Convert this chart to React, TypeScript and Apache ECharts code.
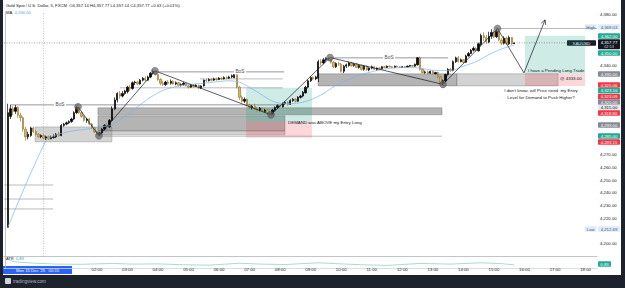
import React, { useEffect, useRef } from 'react';
import * as echarts from 'echarts';

// ---------- axis categories (5-minute slots from Sun 23:00) ----------
const SLOT_COUNT = 233;
const timeCategories: string[] = [];
for (let k = 0; k < SLOT_COUNT; k++) {
  const m = (23 * 60 + k * 5) % 1440;
  timeCategories.push(String(Math.floor(m / 60)).padStart(2, '0') + ':' + String(m % 60).padStart(2, '0'));
}
const timeTickLabels = ['02:00', '03:00', '04:00', '05:00', '06:00', '07:00', '08:00', '09:00', '10:00', '11:00', '12:00', '13:00', '14:00', '15:00', '16:00', '17:00', '18:00'];
const priceTickLabels = [4200, 4220, 4230, 4240, 4250, 4260, 4270, 4340, 4380];

// ---------- candles [open, high, low, close], first = 23:05 ----------
const candles: number[][] = [
  [4213, 4310, 4212.69, 4303], [4300, 4309, 4298, 4306], [4306, 4308, 4301, 4304], [4304, 4309, 4302, 4307],
  [4307, 4308, 4299, 4301], [4301, 4303, 4296, 4299], [4299, 4300, 4288, 4290], [4290, 4292, 4281, 4284],
  [4284, 4288, 4282, 4286], [4285, 4292, 4284, 4291], [4291, 4292, 4287, 4288], [4288, 4289.5, 4285, 4286],
  [4286, 4287, 4283, 4284], [4284, 4286, 4283, 4285], [4285, 4286, 4282, 4283], [4283, 4285, 4281.5, 4284],
  [4284, 4285, 4281.6, 4282.5], [4282.5, 4285, 4282, 4283.5], [4283.5, 4286, 4282.5, 4284], [4284, 4287, 4283, 4286],
  [4286, 4288, 4284, 4285], [4285, 4294, 4284.5, 4293], [4293, 4295, 4292, 4294], [4294, 4296, 4293, 4295],
  [4295, 4297, 4294, 4296], [4296, 4299, 4295, 4298], [4298, 4304, 4297, 4303], [4303, 4308.5, 4302, 4307],
  [4307, 4308, 4302, 4303], [4303, 4304, 4299, 4300], [4300, 4301, 4296, 4297], [4297, 4299, 4295, 4298],
  [4298, 4299, 4293, 4294], [4294, 4295, 4290, 4291], [4291, 4292, 4287, 4288], [4288, 4289, 4285, 4286],
  [4286, 4288, 4284.5, 4287], [4287, 4291, 4286, 4290], [4290, 4294, 4289, 4293], [4293, 4295, 4290, 4292],
  [4292, 4298, 4291, 4297], [4297, 4308, 4296, 4306], [4306, 4315, 4305, 4313], [4313, 4319, 4311, 4318],
  [4318, 4320, 4314, 4316], [4316, 4320, 4315, 4318], [4318, 4321, 4317, 4320], [4319.5, 4324, 4318, 4323],
  [4323, 4325, 4320, 4322], [4322, 4327.5, 4321, 4326.5], [4326.5, 4328, 4324.5, 4327], [4327, 4328, 4324.5, 4325.5],
  [4325.5, 4329.5, 4325, 4328.5], [4328.5, 4331, 4327.5, 4330], [4330, 4331.5, 4327.5, 4328.5], [4328.5, 4332, 4328, 4331],
  [4331, 4335, 4330, 4334], [4334, 4336.5, 4333, 4335.5], [4335.5, 4336, 4332, 4333], [4333, 4334, 4328, 4329],
  [4329, 4330, 4324.5, 4326], [4326, 4328, 4324, 4325], [4325, 4328, 4324, 4327], [4327, 4328.5, 4325, 4326],
  [4326, 4329, 4325, 4327.5], [4327.5, 4328.5, 4325, 4325.5], [4325.5, 4327.5, 4324.5, 4326.5], [4326.5, 4327, 4323.5, 4324.5],
  [4324.5, 4326, 4323.5, 4325], [4325, 4327, 4324, 4326], [4326, 4326.5, 4323.5, 4324], [4324, 4325, 4322, 4323],
  [4323, 4325.5, 4322.5, 4324.5], [4324.5, 4325.5, 4322.5, 4323.5], [4323.5, 4325.5, 4323, 4324.5], [4324.5, 4325, 4321.5, 4322.5],
  [4322.5, 4324.5, 4321.5, 4324], [4324, 4329, 4323.5, 4328.5], [4328.5, 4329.5, 4327, 4328], [4328, 4330, 4327.5, 4329],
  [4329, 4330, 4327.5, 4328.5], [4328.5, 4330.5, 4328, 4329.5], [4329.5, 4330.5, 4328, 4329], [4329, 4331, 4328.5, 4330],
  [4330, 4331, 4328.5, 4329.5], [4329.5, 4331.5, 4329, 4330.5], [4330.5, 4331.5, 4329, 4330], [4330, 4332, 4329.5, 4331],
  [4331, 4333, 4330, 4332], [4330.5, 4334.5, 4330, 4333], [4333, 4333.5, 4322, 4323], [4323, 4324, 4313, 4315],
  [4315, 4316.5, 4311, 4312], [4312, 4315, 4310.5, 4313.5], [4313.5, 4314, 4308, 4309], [4309, 4310, 4306, 4307],
  [4307, 4309, 4305.5, 4308], [4308, 4310, 4305, 4306], [4306, 4307.5, 4304, 4305], [4305, 4307.5, 4304, 4306.5],
  [4306.5, 4307, 4303.5, 4304], [4304, 4306, 4303, 4305], [4305, 4305.5, 4302, 4303], [4303, 4304, 4300.5, 4302],
  [4302, 4306, 4301, 4305], [4305, 4308, 4304, 4307], [4307, 4309.5, 4306, 4308.5], [4308.5, 4309, 4306.5, 4307.5],
  [4307.5, 4311, 4307, 4310], [4310, 4312, 4309, 4311], [4311, 4312, 4308.5, 4309.5], [4309.5, 4313.5, 4309, 4312.5],
  [4312.5, 4314.5, 4311.5, 4313.5], [4313.5, 4314.5, 4311, 4312], [4312, 4316, 4311.5, 4315], [4315, 4317, 4314, 4316],
  [4316, 4320, 4315, 4319], [4318.5, 4324, 4318, 4323], [4323, 4329, 4322, 4328], [4328, 4331.5, 4327, 4330.5],
  [4330.5, 4331.5, 4328.5, 4329.5], [4329.5, 4332, 4328.5, 4331], [4330, 4344.5, 4327, 4343], [4343, 4345, 4340, 4342],
  [4342, 4346, 4341, 4344.5], [4344.5, 4346.5, 4343, 4345.5], [4345.5, 4346.8, 4343.5, 4345], [4345, 4346, 4341.5, 4342.5],
  [4342.5, 4343.5, 4338, 4339], [4339, 4342.5, 4338, 4341.5], [4341.5, 4343, 4339.5, 4341], [4341, 4342, 4334.5, 4335.5],
  [4335.5, 4340.5, 4334, 4339.5], [4339.5, 4341.5, 4338, 4340.5], [4340, 4343, 4339, 4342], [4342, 4343, 4339, 4340],
  [4340, 4342, 4339, 4341], [4341, 4342, 4338, 4338.5], [4338.5, 4341, 4337.5, 4340], [4340, 4340.5, 4336, 4337],
  [4337, 4340, 4336, 4339.5], [4339.5, 4340, 4336, 4336.5], [4336.5, 4338.5, 4335.5, 4338], [4338, 4340, 4337, 4339],
  [4339, 4339.5, 4336.5, 4337], [4337, 4338.5, 4336, 4338], [4338, 4338.5, 4336.5, 4337.5], [4337.5, 4339.5, 4337, 4339],
  [4339, 4339.5, 4338, 4338.5], [4338.5, 4340, 4338, 4339.5], [4339.5, 4340, 4338.5, 4339], [4339, 4339.5, 4338, 4338.5],
  [4338.5, 4340, 4338, 4339.5], [4339.5, 4340, 4338.5, 4339], [4339, 4339.5, 4338, 4338.5], [4338.5, 4339.5, 4338, 4339],
  [4339, 4339.5, 4338, 4338.7], [4338.7, 4340, 4338.5, 4339.5], [4339.5, 4340.5, 4339, 4340], [4340, 4340.5, 4339, 4339.5],
  [4339.5, 4341.5, 4339, 4341], [4340.5, 4346.7, 4340, 4346], [4346, 4347, 4336, 4337], [4337, 4338, 4334, 4334.5],
  [4334.5, 4336, 4333.5, 4335], [4335, 4336, 4333, 4334], [4334, 4336, 4333.5, 4335.5], [4335.5, 4336, 4333, 4333.5],
  [4333.5, 4335, 4333, 4334.5], [4334.5, 4335, 4330, 4331], [4331, 4332, 4325.5, 4326.5], [4326.5, 4329, 4324.8, 4328],
  [4328, 4333.5, 4327, 4333], [4333, 4338, 4332, 4337], [4337, 4338, 4335, 4336], [4336, 4344, 4335.5, 4343],
  [4343, 4347, 4342, 4346], [4346, 4347.5, 4342.5, 4343], [4343, 4345.5, 4342.5, 4344.5], [4344.5, 4345, 4341.5, 4342.5],
  [4342.5, 4348.5, 4342, 4347.5], [4347.5, 4350.5, 4347, 4349.5], [4349.5, 4353, 4349, 4352], [4352, 4355, 4351, 4353.5],
  [4353.5, 4354.5, 4351, 4351.5], [4351.5, 4358, 4351, 4357], [4356.5, 4365, 4355, 4363.5], [4363.5, 4366, 4359, 4362],
  [4362, 4364, 4357, 4358.5], [4358.5, 4366.5, 4357.5, 4363], [4363, 4368.5, 4361, 4366], [4366, 4368, 4361.5, 4362.5],
  [4362.5, 4369.03, 4361.5, 4367], [4367, 4368.5, 4359, 4360], [4360, 4361.5, 4356, 4357.5], [4357.5, 4363, 4356.5, 4361.5],
  [4361.5, 4362.5, 4356.5, 4357], [4357, 4363.5, 4356, 4362], [4362, 4362.5, 4356.2, 4357.14], [4357.14, 4357.77, 4357.14, 4357.77],
];

// ---------- moving average, read at sparse slots [slot, value] ----------
const maPoints: number[][] = [
  [1, 4213], [16, 4281], [20, 4285.5], [26, 4288.5], [32, 4290], [37, 4291.5], [42, 4293.5], [47, 4300],
  [52, 4307.5], [57, 4315], [62, 4320.5], [67, 4323.5], [72, 4325], [80, 4326.5], [88, 4328], [92, 4327],
  [95, 4324], [100, 4318], [105, 4312], [110, 4310], [115, 4310.5], [120, 4313], [125, 4318], [130, 4324.5],
  [135, 4329], [140, 4333], [150, 4337.5], [160, 4338.5], [170, 4336], [175, 4336], [180, 4339.5], [185, 4343],
  [190, 4348.5], [195, 4353], [200, 4356],
];

// ---------- ATR pane, sparse [slot, value] ----------
const atrPoints: number[][] = [
  [1, 2.4], [2, 1.9], [3, 1.6], [5, 1.45], [8, 1.35], [12, 1.2], [20, 1.0], [30, 0.95], [42, 1.15], [50, 1.0],
  [60, 1.05], [70, 0.85], [80, 0.75], [92, 1.2], [100, 1.0], [110, 0.9], [123, 1.3], [130, 1.1], [140, 0.85],
  [150, 0.7], [163, 1.15], [175, 1.0], [187, 1.3], [195, 1.1], [200, 0.83],
];

// ---------- zones [fromSlot, toSlot, lowPrice, highPrice, kind] ----------
const zones: number[][] = [
  [11.7, 41.9, 4280.1, 4291.8, 0],
  [36.4, 171.6, 4301.3, 4306.8, 1],
  [36.4, 109.9, 4288.7, 4300.5, 1],
  [36.4, 109.9, 4285.6, 4288.7, 0],
  [122.9, 177.4, 4324.0, 4333.5, 1],
  [177.4, 217.2, 4324.0, 4333.5, 0],
  [94.6, 120.5, 4295.8, 4322.5, 2],
  [94.6, 120.5, 4283.2, 4295.8, 3],
  [204.2, 227.8, 4333.5, 4363.3, 2],
  [204.2, 227.8, 4324.0, 4333.5, 3],
];

// ---------- line segments [x1, p1, x2, p2, kind] ----------
const segments: number[][] = [
  [1.9, 4309.1, 109, 4309.1, 0],
  [60, 4335.0, 109.6, 4335.0, 0],
  [128.4, 4346.0, 174, 4346.0, 0],
  [45, 4322.5, 109, 4322.5, 1],
  [76.5, 4329.5, 109, 4329.5, 1],
  [36.4, 4284.5, 171.6, 4284.5, 1],
  [-0.4, 4246.2, 18.8, 4246.2, 1],
  [-0.4, 4235.2, 18.8, 4235.2, 1],
  [-0.4, 4227.4, 18.8, 4227.4, 1],
  [193.4, 4369.03, 232.5, 4369.03, 1],
  [-0.5, 4357.77, 232.5, 4357.77, 2],
  [15, 4190, 15, 4382, 3],
  [203.8, 4334.2, 212.1, 4375.8, 4],
];

// ---------- swing structure ----------
const swingPoints: number[][] = [
  [28.6, 4307.6], [36.8, 4284.8], [58.8, 4335.8], [104.4, 4301.3], [127.6, 4346.2], [172, 4325.2], [193.4, 4369.03], [203.8, 4334.2],
];
const pivotCount = 7;

// ---------- notes ----------
const noteTexts = ['BoS', 'BoS', 'BoS', 'DEMAND was ABOVE my Entry Long', 'I have a Pending Long Trade',
  "I don't know, will Price need  my Entry", 'Level for Demand to Push Higher?', '@ 4333.00'];
const notePos: number[][] = [
  [21.5, 4309.1, 0], [92.2, 4335.0, 0], [150.8, 4346.0, 0], [111.1, 4295.0, 1], [205.4, 4335.8, 1],
  [210.5, 4320.0, 2], [210.5, 4314.5, 2], [218.0, 4329.5, 1],
];

// ---------- right-scale badges ----------
const badgeLabels = ['4,369.03', '4,362.00', '4,357.77', '4,350.00', '4,335.00', '4,325.06', '4,323.16', '4,323.09',
  '4,320.00', '4,315.00', '4,318.80', '4,293.00', '4,285.00', '4,283.15', '4,212.69'];
const headerName = 'Gold Spot / U.S. Dollar, 5, FXCM';
const headerOHLC = ['4,357.14', '4,357.77', '4,357.14', '4,357.77'];
const headerChange = '+0.63 (+0.01%)';
const maValueText = '4,356.00';
const atrValueText = '0.83';
const crosshairText = "Mon 15 Dec '25   00:15";

const FONT = 'Liberation Sans, Arial, sans-serif';
const C_GREEN = '#22ab94';
const C_RED = '#f23645';
const C_GREY = '#868993';
const C_PALE = '#dfe9fb';

function fmtPrice(v: number) {
  return v.toLocaleString('en-US', { minimumFractionDigits: 2, maximumFractionDigits: 2 });
}

function textEl(x: number, y: number, text: string, fill: string, size: number, align = 'left', extra: any = {}) {
  return {
    type: 'text', x, y, silent: true,
    style: { text, fill, fontSize: size, fontFamily: FONT, align, textAlign: align, verticalAlign: 'middle', textVerticalAlign: 'middle', ...extra },
  };
}
function badgeEl(label: string, yc: number, bg: string, fg: string, x = 598, w = 22, h = 5.6) {
  return {
    type: 'group', silent: true,
    children: [
      { type: 'rect', shape: { x, y: yc - h / 2, width: w, height: h, r: 0.8 }, style: { fill: bg } },
      textEl(x + w / 2, yc + 0.2, label, fg, 4.3, 'center'),
    ],
  };
}

export default function App() {
  const ref = useRef<HTMLDivElement>(null);
  useEffect(() => {
    document.body.style.margin = '0';
    if (!ref.current) return;
    const chart = echarts.init(ref.current, undefined, { renderer: 'svg' });

    const candleData: any[] = [['-', '-', '-', '-']];
    candles.forEach((c) => candleData.push([c[0], c[3], c[2], c[1]]));

    const badgeLayout: [number, string, string][] = [
      [27, C_PALE, '#4a5a7a'], [36, C_GREEN, '#fff'], [43, '#131722', '#fff'], [53, C_GREEN, '#fff'],
      [74, C_GREY, '#fff'], [85, C_RED, '#fff'], [90.5, C_GREEN, '#fff'], [96.5, C_RED, '#fff'],
      [102, C_GREY, '#fff'], [107.5, '#e6e8ee', '#131722'], [113, C_RED, '#fff'], [125, C_GREY, '#fff'],
      [136, C_GREEN, '#fff'], [142, C_RED, '#fff'], [229, C_PALE, '#4a5a7a'],
    ];
    const graphics: any[] = [];
    badgeLabels.forEach((lab, k) => {
      const [y, bg, fg] = badgeLayout[k];
      if (k === 2) {
        graphics.push({
          type: 'group', silent: true, children: [
            { type: 'rect', shape: { x: 598, y: 39.2, width: 22, height: 10, r: 0.8 }, style: { fill: bg } },
            textEl(609, 42, lab, fg, 4.3, 'center'),
            textEl(609, 46.8, '02:53', '#d1d4dc', 3.8, 'center'),
          ],
        });
      } else graphics.push(badgeEl(lab, y, bg, fg));
    });
    // tags left of scale
    graphics.push(badgeEl('High', 27, C_PALE, '#4a5a7a', 585, 11.5));
    graphics.push(badgeEl('XAUUSD', 43, '#131722', '#fff', 567, 29));
    graphics.push(badgeEl('Low', 229, C_PALE, '#4a5a7a', 585, 11.5));
    graphics.push(badgeEl(atrValueText, 264, C_GREEN, '#fff', 598, 13));
    // header
    graphics.push({
      type: 'text', x: 6, y: 5.5, silent: true,
      style: {
        text: `{n|${headerName}}  {l|O}{v|${headerOHLC[0]}} {l|H}{v|${headerOHLC[1]}} {l|L}{v|${headerOHLC[2]}} {l|C}{v|${headerOHLC[3]}} {v|${headerChange}}`,
        fontFamily: FONT, fontSize: 4.2, fill: '#131722', verticalAlign: 'middle', textVerticalAlign: 'middle',
        rich: { n: { fontSize: 4.2, fill: '#131722' }, l: { fontSize: 4.2, fill: '#131722' }, v: { fontSize: 4.2, fill: '#131722' } },
      },
    });
    graphics.push({
      type: 'text', x: 6, y: 12.5, silent: true,
      style: {
        text: `{l|MA}  {v|${maValueText}}`, fontFamily: FONT, fontSize: 4.2, verticalAlign: 'middle', textVerticalAlign: 'middle',
        rich: { l: { fontSize: 4.2, fill: '#131722' }, v: { fontSize: 4.2, fill: '#5b9cf6' } },
      },
    });
    graphics.push({
      type: 'text', x: 6, y: 258.5, silent: true,
      style: {
        text: `{l|ATR}  {v|${atrValueText}}`, fontFamily: FONT, fontSize: 4, verticalAlign: 'middle', textVerticalAlign: 'middle',
        rich: { l: { fontSize: 4, fill: '#131722' }, v: { fontSize: 4, fill: C_GREEN } },
      },
    });
    // crosshair time label
    graphics.push({
      type: 'group', silent: true, children: [
        { type: 'rect', shape: { x: 3, y: 266, width: 69, height: 8 }, style: { fill: '#2962ff' } },
        textEl(37.5, 270, crosshairText, '#fff', 4.2, 'center'),
      ],
    });
    // frame and footer
    graphics.push({ type: 'rect', silent: true, shape: { x: 0, y: 0, width: 3, height: 288 }, style: { fill: '#1e222d' } });
    graphics.push({ type: 'rect', silent: true, shape: { x: 621, y: 0, width: 4, height: 288 }, style: { fill: '#1e222d' } });
    graphics.push({ type: 'rect', silent: true, shape: { x: 0, y: 275, width: 625, height: 13 }, style: { fill: '#1e222d' } });
    graphics.push({ type: 'rect', silent: true, shape: { x: 5, y: 278, width: 6, height: 6, r: 1 }, style: { fill: '#d1d4dc' } });
    graphics.push(textEl(13, 281.3, 'tradingview.com', '#b2b5be', 4.6, 'left'));

    const zoneFill = ['rgba(150,150,150,0.42)', 'rgba(105,105,105,0.5)', 'rgba(8,153,129,0.2)', 'rgba(242,54,69,0.2)'];
    const zoneStroke = ['rgba(90,90,90,0.6)', 'rgba(70,70,70,0.6)', 'rgba(0,0,0,0)', 'rgba(0,0,0,0)'];

    const option: any = {
      animation: false,
      backgroundColor: '#ffffff',
      textStyle: { fontFamily: FONT },
      grid: [
        { left: 4, right: 28, top: 12, height: 244.6 },
        { left: 4, right: 28, top: 257.5, height: 11 },
      ],
      xAxis: [
        {
          type: 'category', gridIndex: 0, data: timeCategories, boundaryGap: true,
          axisLine: { show: true, lineStyle: { color: '#b2b5be', width: 0.8 } },
          axisTick: { show: false },
          splitLine: { show: false },
          axisLabel: {
            interval: (_i: number, v: string) => timeTickLabels.includes(v),
            fontSize: 4.3, color: '#131722', margin: 11, fontFamily: FONT,
          },
        },
        { type: 'value', gridIndex: 0, min: -0.5, max: 232.5, show: false },
        {
          type: 'value', gridIndex: 1, min: -0.5, max: 232.5, show: true,
          axisLine: { show: true, onZero: false, lineStyle: { color: '#d1d4dc', width: 0.8 } },
          axisTick: { show: false }, axisLabel: { show: false }, splitLine: { show: false },
        },
      ],
      yAxis: [
        {
          type: 'value', gridIndex: 0, position: 'right', min: 4190, max: 4382, interval: 10, scale: true,
          axisLine: { show: true, lineStyle: { color: '#b2b5be', width: 0.8 } },
          axisTick: { show: false }, splitLine: { show: false },
          axisLabel: {
            fontSize: 4.3, color: '#131722', margin: 3, fontFamily: FONT,
            formatter: (v: number) => (priceTickLabels.includes(v) ? fmtPrice(v) : ''),
          },
        },
        {
          type: 'value', gridIndex: 1, position: 'right', min: 0, max: 2.5,
          axisLine: { show: true, lineStyle: { color: '#b2b5be', width: 0.8 } },
          axisTick: { show: false }, axisLabel: { show: false }, splitLine: { show: false },
        },
      ],
      graphic: graphics,
      series: [
        {
          type: 'custom', name: 'zones', xAxisIndex: 1, yAxisIndex: 0, z: 1, silent: true,
          data: zones, encode: { x: [0, 1], y: [2, 3] },
          renderItem: (_p: any, api: any) => {
            const a = api.coord([api.value(0), api.value(3)]);
            const b = api.coord([api.value(1), api.value(2)]);
            const k = api.value(4);
            return {
              type: 'rect', shape: { x: a[0], y: a[1], width: b[0] - a[0], height: b[1] - a[1] },
              style: { fill: zoneFill[k], stroke: zoneStroke[k], lineWidth: 0.5 },
            };
          },
        },
        {
          type: 'custom', name: 'segments', xAxisIndex: 1, yAxisIndex: 0, z: 2, silent: true,
          data: segments, encode: { x: [0, 2], y: [1, 3] },
          renderItem: (_p: any, api: any) => {
            const a = api.coord([api.value(0), api.value(1)]);
            const b = api.coord([api.value(2), api.value(3)]);
            const k = api.value(4);
            const styles: any[] = [
              { stroke: '#6a6d78', lineWidth: 0.7 },
              { stroke: '#8a8d96', lineWidth: 0.6 },
              { stroke: '#5d606b', lineWidth: 0.6, lineDash: [1, 1.5] },
              { stroke: '#9598a1', lineWidth: 0.6, lineDash: [1, 1.5] },
              { stroke: '#131722', lineWidth: 0.7, fill: 'none' },
            ];
            const children: any[] = [{ type: 'line', shape: { x1: a[0], y1: a[1], x2: b[0], y2: b[1] }, style: styles[k] }];
            if (k === 4) {
              const ang = Math.atan2(b[1] - a[1], b[0] - a[0]);
              const L = 5;
              const h1 = [b[0] - L * Math.cos(ang - 0.5), b[1] - L * Math.sin(ang - 0.5)];
              const h2 = [b[0] - L * Math.cos(ang + 0.5), b[1] - L * Math.sin(ang + 0.5)];
              children.push({ type: 'polyline', shape: { points: [h1, b, h2] }, style: { stroke: '#131722', lineWidth: 0.7, fill: 'none' } });
            }
            return { type: 'group', children };
          },
        },
        {
          type: 'candlestick', name: 'XAUUSD', xAxisIndex: 0, yAxisIndex: 0, z: 3, barWidth: '72%',
          data: candleData,
          itemStyle: { color: '#000000', color0: '#d8b567', borderColor: '#000000', borderColor0: '#9c7a33', borderWidth: 0.7 },
        },
        {
          type: 'line', name: 'MA', xAxisIndex: 1, yAxisIndex: 0, z: 4, data: maPoints, smooth: 0.3,
          symbol: 'none', lineStyle: { color: '#7eb3e6', width: 0.7 }, silent: true,
        },
        {
          type: 'line', name: 'swings', xAxisIndex: 1, yAxisIndex: 0, z: 5, data: swingPoints,
          symbol: 'none', lineStyle: { color: '#131722', width: 0.7 }, silent: true,
        },
        {
          type: 'scatter', name: 'pivots', xAxisIndex: 1, yAxisIndex: 0, z: 6, data: swingPoints.slice(0, pivotCount),
          symbolSize: 7, itemStyle: { color: 'rgba(95,95,100,0.85)', borderColor: 'rgba(60,60,65,0.8)', borderWidth: 0.5 }, silent: true,
        },
        {
          type: 'custom', name: 'notes', xAxisIndex: 1, yAxisIndex: 0, z: 7, silent: true,
          data: notePos, encode: { x: 0, y: 1 },
          renderItem: (p: any, api: any) => {
            const pt = api.coord([api.value(0), api.value(1)]);
            const k = api.value(2);
            const text = noteTexts[p.dataIndex];
            const style: any = {
              text, fill: '#131722', fontSize: 4.4, fontFamily: FONT,
              align: k === 1 ? 'left' : 'center',
              textAlign: k === 1 ? 'left' : 'center',
              verticalAlign: 'middle', textVerticalAlign: 'middle',
            };
            if (k === 0) { style.backgroundColor = '#ffffff'; style.padding = [0, 1.5]; style.fill = '#4a4d57'; style.fontSize = 4.8; }
            return { type: 'text', x: pt[0], y: pt[1], style };
          },
        },
        {
          type: 'line', name: 'ATR', xAxisIndex: 2, yAxisIndex: 1, data: atrPoints,
          symbol: 'none', lineStyle: { color: '#7fcdbb', width: 0.7 }, silent: true,
        },
      ],
    };
    chart.setOption(option);
    return () => chart.dispose();
  }, []);
  return <div ref={ref} style={{ width: 625, height: 288 }} />;
}
